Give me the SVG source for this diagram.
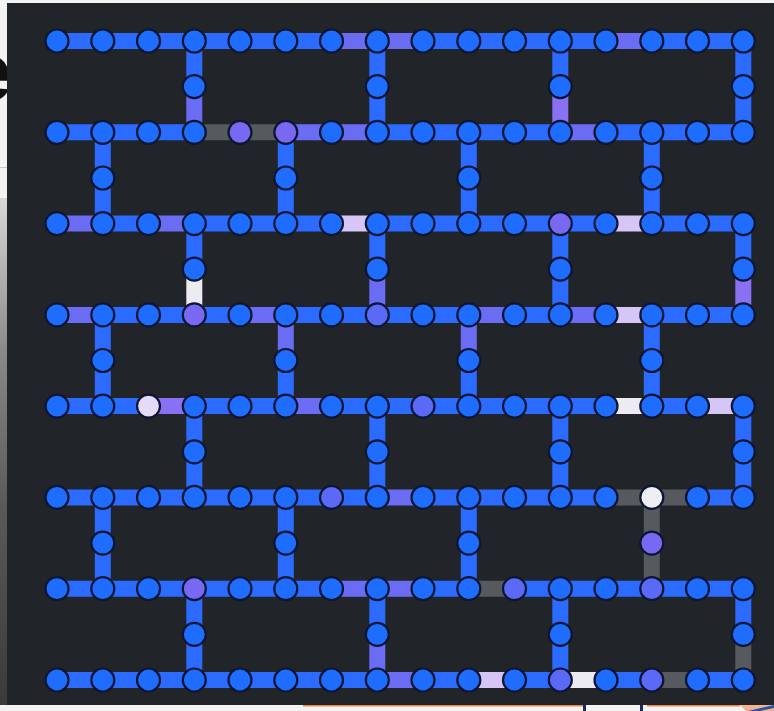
<svg xmlns="http://www.w3.org/2000/svg" width="774" height="711" viewBox="0 0 774 711">
<defs>
<linearGradient id="leftstrip" x1="0" y1="0" x2="0" y2="1">
<stop offset="0" stop-color="#d8d8d8"/>
<stop offset="0.3" stop-color="#8a8a8a"/>
<stop offset="0.6" stop-color="#5a5a5a"/>
<stop offset="1" stop-color="#3a3a3a"/>
</linearGradient>
<style>
.b{stroke:#2b6bff;stroke-width:16;fill:none}
.p{stroke:#6a6cf4;stroke-width:16;fill:none}
.pp{stroke:#8a70f2;stroke-width:16;fill:none}
.l{stroke:#d6c6f6;stroke-width:16;fill:none}
.g{stroke:#56595e;stroke-width:16;fill:none}
.w{stroke:#ecebf2;stroke-width:16;fill:none}
circle{stroke:#0c1633;stroke-width:2.2}
.B{fill:#1f6dff}
.P{fill:#7868f2}
.P2{fill:#5a6af6}
.L{fill:#e4dbf8}
.W{fill:#efeef3}
</style>
</defs>
<rect x="0" y="0" width="774" height="711" fill="#f3f3f3"/>
<rect x="0" y="167" width="8" height="1" fill="#c8c8c8"/>
<rect x="0" y="198" width="8" height="507" fill="url(#leftstrip)"/>
<text x="12" y="100" text-anchor="end" font-family="Liberation Sans, Arial, sans-serif" font-weight="bold" font-size="82" fill="#111">e</text>
<rect x="7" y="3" width="767" height="702" fill="#212428"/>
<rect x="303" y="705" width="280" height="1.5" fill="#f0874a"/>
<rect x="583" y="705" width="3" height="6" fill="#1d2a5a"/>
<rect x="640" y="705" width="3" height="6" fill="#1d2a5a"/>
<rect x="647" y="705" width="93" height="1.5" fill="#f0874a"/>
<polygon points="740,705 774,705 774,711 746,711" fill="#f4b48a"/>
<polygon points="748,711 774,705 774,708 760,711" fill="#2a4fa8"/>
<g id="connectors">
<path class="b" d="M57 41H102.8"/><path class="b" d="M102.8 41H148.5"/><path class="b" d="M148.5 41H194.3"/><path class="b" d="M194.3 41H240"/><path class="b" d="M240 41H285.8"/><path class="b" d="M285.8 41H331.5"/><path class="p" d="M331.5 41H377.3"/><path class="p" d="M377.3 41H423"/><path class="b" d="M423 41H468.8"/><path class="b" d="M468.8 41H514.5"/><path class="b" d="M514.5 41H560.3"/><path class="b" d="M560.3 41H606"/><path class="p" d="M606 41H651.8"/><path class="b" d="M651.8 41H697.5"/><path class="b" d="M697.5 41H743.3"/>
<path class="b" d="M57 132.3H102.8"/><path class="b" d="M102.8 132.3H148.5"/><path class="b" d="M148.5 132.3H194.3"/><path class="g" d="M194.3 132.3H240"/><path class="g" d="M240 132.3H285.8"/><path class="p" d="M285.8 132.3H331.5"/><path class="p" d="M331.5 132.3H377.3"/><path class="b" d="M377.3 132.3H423"/><path class="b" d="M423 132.3H468.8"/><path class="b" d="M468.8 132.3H514.5"/><path class="b" d="M514.5 132.3H560.3"/><path class="p" d="M560.3 132.3H606"/><path class="b" d="M606 132.3H651.8"/><path class="b" d="M651.8 132.3H697.5"/><path class="b" d="M697.5 132.3H743.3"/>
<path class="p" d="M57 223.6H102.8"/><path class="b" d="M102.8 223.6H148.5"/><path class="p" d="M148.5 223.6H194.3"/><path class="b" d="M194.3 223.6H240"/><path class="b" d="M240 223.6H285.8"/><path class="b" d="M285.8 223.6H331.5"/><path class="l" d="M331.5 223.6H377.3"/><path class="b" d="M377.3 223.6H423"/><path class="b" d="M423 223.6H468.8"/><path class="b" d="M468.8 223.6H514.5"/><path class="b" d="M514.5 223.6H560.3"/><path class="b" d="M560.3 223.6H606"/><path class="l" d="M606 223.6H651.8"/><path class="b" d="M651.8 223.6H697.5"/><path class="b" d="M697.5 223.6H743.3"/>
<path class="p" d="M57 314.9H102.8"/><path class="b" d="M102.8 314.9H148.5"/><path class="b" d="M148.5 314.9H194.3"/><path class="b" d="M194.3 314.9H240"/><path class="p" d="M240 314.9H285.8"/><path class="b" d="M285.8 314.9H331.5"/><path class="b" d="M331.5 314.9H377.3"/><path class="b" d="M377.3 314.9H423"/><path class="b" d="M423 314.9H468.8"/><path class="p" d="M468.8 314.9H514.5"/><path class="b" d="M514.5 314.9H560.3"/><path class="p" d="M560.3 314.9H606"/><path class="l" d="M606 314.9H651.8"/><path class="b" d="M651.8 314.9H697.5"/><path class="b" d="M697.5 314.9H743.3"/>
<path class="b" d="M57 406.1H102.8"/><path class="b" d="M102.8 406.1H148.5"/><path class="pp" d="M148.5 406.1H194.3"/><path class="b" d="M194.3 406.1H240"/><path class="b" d="M240 406.1H285.8"/><path class="p" d="M285.8 406.1H331.5"/><path class="b" d="M331.5 406.1H377.3"/><path class="b" d="M377.3 406.1H423"/><path class="b" d="M423 406.1H468.8"/><path class="b" d="M468.8 406.1H514.5"/><path class="b" d="M514.5 406.1H560.3"/><path class="b" d="M560.3 406.1H606"/><path class="w" d="M606 406.1H651.8"/><path class="b" d="M651.8 406.1H697.5"/><path class="l" d="M697.5 406.1H743.3"/>
<path class="b" d="M57 497.4H102.8"/><path class="b" d="M102.8 497.4H148.5"/><path class="b" d="M148.5 497.4H194.3"/><path class="b" d="M194.3 497.4H240"/><path class="b" d="M240 497.4H285.8"/><path class="b" d="M285.8 497.4H331.5"/><path class="b" d="M331.5 497.4H377.3"/><path class="p" d="M377.3 497.4H423"/><path class="b" d="M423 497.4H468.8"/><path class="b" d="M468.8 497.4H514.5"/><path class="b" d="M514.5 497.4H560.3"/><path class="b" d="M560.3 497.4H606"/><path class="g" d="M606 497.4H651.8"/><path class="g" d="M651.8 497.4H697.5"/><path class="b" d="M697.5 497.4H743.3"/>
<path class="b" d="M57 588.7H102.8"/><path class="b" d="M102.8 588.7H148.5"/><path class="b" d="M148.5 588.7H194.3"/><path class="b" d="M194.3 588.7H240"/><path class="b" d="M240 588.7H285.8"/><path class="b" d="M285.8 588.7H331.5"/><path class="p" d="M331.5 588.7H377.3"/><path class="p" d="M377.3 588.7H423"/><path class="b" d="M423 588.7H468.8"/><path class="g" d="M468.8 588.7H514.5"/><path class="b" d="M514.5 588.7H560.3"/><path class="b" d="M560.3 588.7H606"/><path class="b" d="M606 588.7H651.8"/><path class="b" d="M651.8 588.7H697.5"/><path class="b" d="M697.5 588.7H743.3"/>
<path class="b" d="M57 680H102.8"/><path class="b" d="M102.8 680H148.5"/><path class="b" d="M148.5 680H194.3"/><path class="b" d="M194.3 680H240"/><path class="b" d="M240 680H285.8"/><path class="b" d="M285.8 680H331.5"/><path class="b" d="M331.5 680H377.3"/><path class="p" d="M377.3 680H423"/><path class="b" d="M423 680H468.8"/><path class="l" d="M468.8 680H514.5"/><path class="b" d="M514.5 680H560.3"/><path class="w" d="M560.3 680H606"/><path class="b" d="M606 680H651.8"/><path class="g" d="M651.8 680H697.5"/><path class="b" d="M697.5 680H743.3"/>
<path class="b" d="M194.3 41V86.6"/><path class="p" d="M194.3 86.6V132.3"/>
<path class="b" d="M377.3 41V86.6"/><path class="b" d="M377.3 86.6V132.3"/>
<path class="b" d="M560.3 41V86.6"/><path class="pp" d="M560.3 86.6V132.3"/>
<path class="b" d="M743.3 41V86.6"/><path class="b" d="M743.3 86.6V132.3"/>
<path class="b" d="M102.8 132.3V178"/><path class="b" d="M102.8 178V223.6"/>
<path class="b" d="M285.8 132.3V178"/><path class="b" d="M285.8 178V223.6"/>
<path class="b" d="M468.8 132.3V178"/><path class="b" d="M468.8 178V223.6"/>
<path class="b" d="M651.8 132.3V178"/><path class="b" d="M651.8 178V223.6"/>
<path class="b" d="M194.3 223.6V269.2"/><path class="w" d="M194.3 269.2V314.9"/>
<path class="b" d="M377.3 223.6V269.2"/><path class="p" d="M377.3 269.2V314.9"/>
<path class="b" d="M560.3 223.6V269.2"/><path class="b" d="M560.3 269.2V314.9"/>
<path class="b" d="M743.3 223.6V269.2"/><path class="pp" d="M743.3 269.2V314.9"/>
<path class="b" d="M102.8 314.9V360.5"/><path class="b" d="M102.8 360.5V406.1"/>
<path class="p" d="M285.8 314.9V360.5"/><path class="b" d="M285.8 360.5V406.1"/>
<path class="p" d="M468.8 314.9V360.5"/><path class="b" d="M468.8 360.5V406.1"/>
<path class="b" d="M651.8 314.9V360.5"/><path class="b" d="M651.8 360.5V406.1"/>
<path class="b" d="M194.3 406.1V451.8"/><path class="b" d="M194.3 451.8V497.4"/>
<path class="b" d="M377.3 406.1V451.8"/><path class="b" d="M377.3 451.8V497.4"/>
<path class="b" d="M560.3 406.1V451.8"/><path class="b" d="M560.3 451.8V497.4"/>
<path class="b" d="M743.3 406.1V451.8"/><path class="b" d="M743.3 451.8V497.4"/>
<path class="b" d="M102.8 497.4V543.1"/><path class="b" d="M102.8 543.1V588.7"/>
<path class="b" d="M285.8 497.4V543.1"/><path class="b" d="M285.8 543.1V588.7"/>
<path class="b" d="M468.8 497.4V543.1"/><path class="b" d="M468.8 543.1V588.7"/>
<path class="g" d="M651.8 497.4V543.1"/><path class="g" d="M651.8 543.1V588.7"/>
<path class="b" d="M194.3 588.7V634.4"/><path class="b" d="M194.3 634.4V680"/>
<path class="b" d="M377.3 588.7V634.4"/><path class="p" d="M377.3 634.4V680"/>
<path class="b" d="M560.3 588.7V634.4"/><path class="b" d="M560.3 634.4V680"/>
<path class="b" d="M743.3 588.7V634.4"/><path class="g" d="M743.3 634.4V680"/>
</g>
<g id="r0">
<g id="q0-0"><circle class="B" cx="57" cy="41" r="11.5"/></g><g id="q0-1"><circle class="B" cx="102.8" cy="41" r="11.5"/></g><g id="q0-2"><circle class="B" cx="148.5" cy="41" r="11.5"/></g><g id="q0-3"><circle class="B" cx="194.3" cy="41" r="11.5"/></g><g id="q0-4"><circle class="B" cx="240" cy="41" r="11.5"/></g><g id="q0-5"><circle class="B" cx="285.8" cy="41" r="11.5"/></g><g id="q0-6"><circle class="B" cx="331.5" cy="41" r="11.5"/></g><g id="q0-7"><circle class="B" cx="377.3" cy="41" r="11.5"/></g><g id="q0-8"><circle class="B" cx="423" cy="41" r="11.5"/></g><g id="q0-9"><circle class="B" cx="468.8" cy="41" r="11.5"/></g><g id="q0-10"><circle class="B" cx="514.5" cy="41" r="11.5"/></g><g id="q0-11"><circle class="B" cx="560.3" cy="41" r="11.5"/></g><g id="q0-12"><circle class="B" cx="606" cy="41" r="11.5"/></g><g id="q0-13"><circle class="B" cx="651.8" cy="41" r="11.5"/></g><g id="q0-14"><circle class="B" cx="697.5" cy="41" r="11.5"/></g><g id="q0-15"><circle class="B" cx="743.3" cy="41" r="11.5"/></g>
</g>
<g id="r1">
<g id="q1-0"><circle class="B" cx="57" cy="132.3" r="11.5"/></g><g id="q1-1"><circle class="B" cx="102.8" cy="132.3" r="11.5"/></g><g id="q1-2"><circle class="B" cx="148.5" cy="132.3" r="11.5"/></g><g id="q1-3"><circle class="B" cx="194.3" cy="132.3" r="11.5"/></g><g id="q1-4"><circle class="P" cx="240" cy="132.3" r="11.5"/></g><g id="q1-5"><circle class="P" cx="285.8" cy="132.3" r="11.5"/></g><g id="q1-6"><circle class="B" cx="331.5" cy="132.3" r="11.5"/></g><g id="q1-7"><circle class="B" cx="377.3" cy="132.3" r="11.5"/></g><g id="q1-8"><circle class="B" cx="423" cy="132.3" r="11.5"/></g><g id="q1-9"><circle class="B" cx="468.8" cy="132.3" r="11.5"/></g><g id="q1-10"><circle class="B" cx="514.5" cy="132.3" r="11.5"/></g><g id="q1-11"><circle class="B" cx="560.3" cy="132.3" r="11.5"/></g><g id="q1-12"><circle class="B" cx="606" cy="132.3" r="11.5"/></g><g id="q1-13"><circle class="B" cx="651.8" cy="132.3" r="11.5"/></g><g id="q1-14"><circle class="B" cx="697.5" cy="132.3" r="11.5"/></g><g id="q1-15"><circle class="B" cx="743.3" cy="132.3" r="11.5"/></g>
</g>
<g id="r2">
<g id="q2-0"><circle class="B" cx="57" cy="223.6" r="11.5"/></g><g id="q2-1"><circle class="B" cx="102.8" cy="223.6" r="11.5"/></g><g id="q2-2"><circle class="B" cx="148.5" cy="223.6" r="11.5"/></g><g id="q2-3"><circle class="B" cx="194.3" cy="223.6" r="11.5"/></g><g id="q2-4"><circle class="B" cx="240" cy="223.6" r="11.5"/></g><g id="q2-5"><circle class="B" cx="285.8" cy="223.6" r="11.5"/></g><g id="q2-6"><circle class="B" cx="331.5" cy="223.6" r="11.5"/></g><g id="q2-7"><circle class="B" cx="377.3" cy="223.6" r="11.5"/></g><g id="q2-8"><circle class="B" cx="423" cy="223.6" r="11.5"/></g><g id="q2-9"><circle class="B" cx="468.8" cy="223.6" r="11.5"/></g><g id="q2-10"><circle class="B" cx="514.5" cy="223.6" r="11.5"/></g><g id="q2-11"><circle class="P" cx="560.3" cy="223.6" r="11.5"/></g><g id="q2-12"><circle class="B" cx="606" cy="223.6" r="11.5"/></g><g id="q2-13"><circle class="B" cx="651.8" cy="223.6" r="11.5"/></g><g id="q2-14"><circle class="B" cx="697.5" cy="223.6" r="11.5"/></g><g id="q2-15"><circle class="B" cx="743.3" cy="223.6" r="11.5"/></g>
</g>
<g id="r3">
<g id="q3-0"><circle class="B" cx="57" cy="314.9" r="11.5"/></g><g id="q3-1"><circle class="B" cx="102.8" cy="314.9" r="11.5"/></g><g id="q3-2"><circle class="B" cx="148.5" cy="314.9" r="11.5"/></g><g id="q3-3"><circle class="P" cx="194.3" cy="314.9" r="11.5"/></g><g id="q3-4"><circle class="B" cx="240" cy="314.9" r="11.5"/></g><g id="q3-5"><circle class="B" cx="285.8" cy="314.9" r="11.5"/></g><g id="q3-6"><circle class="B" cx="331.5" cy="314.9" r="11.5"/></g><g id="q3-7"><circle class="P2" cx="377.3" cy="314.9" r="11.5"/></g><g id="q3-8"><circle class="B" cx="423" cy="314.9" r="11.5"/></g><g id="q3-9"><circle class="B" cx="468.8" cy="314.9" r="11.5"/></g><g id="q3-10"><circle class="B" cx="514.5" cy="314.9" r="11.5"/></g><g id="q3-11"><circle class="B" cx="560.3" cy="314.9" r="11.5"/></g><g id="q3-12"><circle class="B" cx="606" cy="314.9" r="11.5"/></g><g id="q3-13"><circle class="B" cx="651.8" cy="314.9" r="11.5"/></g><g id="q3-14"><circle class="B" cx="697.5" cy="314.9" r="11.5"/></g><g id="q3-15"><circle class="B" cx="743.3" cy="314.9" r="11.5"/></g>
</g>
<g id="r4">
<g id="q4-0"><circle class="B" cx="57" cy="406.1" r="11.5"/></g><g id="q4-1"><circle class="B" cx="102.8" cy="406.1" r="11.5"/></g><g id="q4-2"><circle class="L" cx="148.5" cy="406.1" r="11.5"/></g><g id="q4-3"><circle class="B" cx="194.3" cy="406.1" r="11.5"/></g><g id="q4-4"><circle class="B" cx="240" cy="406.1" r="11.5"/></g><g id="q4-5"><circle class="B" cx="285.8" cy="406.1" r="11.5"/></g><g id="q4-6"><circle class="B" cx="331.5" cy="406.1" r="11.5"/></g><g id="q4-7"><circle class="B" cx="377.3" cy="406.1" r="11.5"/></g><g id="q4-8"><circle class="P2" cx="423" cy="406.1" r="11.5"/></g><g id="q4-9"><circle class="B" cx="468.8" cy="406.1" r="11.5"/></g><g id="q4-10"><circle class="B" cx="514.5" cy="406.1" r="11.5"/></g><g id="q4-11"><circle class="B" cx="560.3" cy="406.1" r="11.5"/></g><g id="q4-12"><circle class="B" cx="606" cy="406.1" r="11.5"/></g><g id="q4-13"><circle class="B" cx="651.8" cy="406.1" r="11.5"/></g><g id="q4-14"><circle class="B" cx="697.5" cy="406.1" r="11.5"/></g><g id="q4-15"><circle class="B" cx="743.3" cy="406.1" r="11.5"/></g>
</g>
<g id="r5">
<g id="q5-0"><circle class="B" cx="57" cy="497.4" r="11.5"/></g><g id="q5-1"><circle class="B" cx="102.8" cy="497.4" r="11.5"/></g><g id="q5-2"><circle class="B" cx="148.5" cy="497.4" r="11.5"/></g><g id="q5-3"><circle class="B" cx="194.3" cy="497.4" r="11.5"/></g><g id="q5-4"><circle class="B" cx="240" cy="497.4" r="11.5"/></g><g id="q5-5"><circle class="B" cx="285.8" cy="497.4" r="11.5"/></g><g id="q5-6"><circle class="P2" cx="331.5" cy="497.4" r="11.5"/></g><g id="q5-7"><circle class="B" cx="377.3" cy="497.4" r="11.5"/></g><g id="q5-8"><circle class="B" cx="423" cy="497.4" r="11.5"/></g><g id="q5-9"><circle class="B" cx="468.8" cy="497.4" r="11.5"/></g><g id="q5-10"><circle class="B" cx="514.5" cy="497.4" r="11.5"/></g><g id="q5-11"><circle class="B" cx="560.3" cy="497.4" r="11.5"/></g><g id="q5-12"><circle class="B" cx="606" cy="497.4" r="11.5"/></g><g id="q5-13"><circle class="W" cx="651.8" cy="497.4" r="11.5"/></g><g id="q5-14"><circle class="B" cx="697.5" cy="497.4" r="11.5"/></g><g id="q5-15"><circle class="B" cx="743.3" cy="497.4" r="11.5"/></g>
</g>
<g id="r6">
<g id="q6-0"><circle class="B" cx="57" cy="588.7" r="11.5"/></g><g id="q6-1"><circle class="B" cx="102.8" cy="588.7" r="11.5"/></g><g id="q6-2"><circle class="B" cx="148.5" cy="588.7" r="11.5"/></g><g id="q6-3"><circle class="P" cx="194.3" cy="588.7" r="11.5"/></g><g id="q6-4"><circle class="B" cx="240" cy="588.7" r="11.5"/></g><g id="q6-5"><circle class="B" cx="285.8" cy="588.7" r="11.5"/></g><g id="q6-6"><circle class="B" cx="331.5" cy="588.7" r="11.5"/></g><g id="q6-7"><circle class="B" cx="377.3" cy="588.7" r="11.5"/></g><g id="q6-8"><circle class="B" cx="423" cy="588.7" r="11.5"/></g><g id="q6-9"><circle class="B" cx="468.8" cy="588.7" r="11.5"/></g><g id="q6-10"><circle class="P2" cx="514.5" cy="588.7" r="11.5"/></g><g id="q6-11"><circle class="B" cx="560.3" cy="588.7" r="11.5"/></g><g id="q6-12"><circle class="B" cx="606" cy="588.7" r="11.5"/></g><g id="q6-13"><circle class="P2" cx="651.8" cy="588.7" r="11.5"/></g><g id="q6-14"><circle class="B" cx="697.5" cy="588.7" r="11.5"/></g><g id="q6-15"><circle class="B" cx="743.3" cy="588.7" r="11.5"/></g>
</g>
<g id="r7">
<g id="q7-0"><circle class="B" cx="57" cy="680" r="11.5"/></g><g id="q7-1"><circle class="B" cx="102.8" cy="680" r="11.5"/></g><g id="q7-2"><circle class="B" cx="148.5" cy="680" r="11.5"/></g><g id="q7-3"><circle class="B" cx="194.3" cy="680" r="11.5"/></g><g id="q7-4"><circle class="B" cx="240" cy="680" r="11.5"/></g><g id="q7-5"><circle class="B" cx="285.8" cy="680" r="11.5"/></g><g id="q7-6"><circle class="B" cx="331.5" cy="680" r="11.5"/></g><g id="q7-7"><circle class="B" cx="377.3" cy="680" r="11.5"/></g><g id="q7-8"><circle class="B" cx="423" cy="680" r="11.5"/></g><g id="q7-9"><circle class="B" cx="468.8" cy="680" r="11.5"/></g><g id="q7-10"><circle class="B" cx="514.5" cy="680" r="11.5"/></g><g id="q7-11"><circle class="P2" cx="560.3" cy="680" r="11.5"/></g><g id="q7-12"><circle class="B" cx="606" cy="680" r="11.5"/></g><g id="q7-13"><circle class="P2" cx="651.8" cy="680" r="11.5"/></g><g id="q7-14"><circle class="B" cx="697.5" cy="680" r="11.5"/></g><g id="q7-15"><circle class="B" cx="743.3" cy="680" r="11.5"/></g>
</g>
<g id="bridges">
<g id="b0-3"><circle class="B" cx="194.3" cy="86.6" r="11.5"/></g><g id="b0-7"><circle class="B" cx="377.3" cy="86.6" r="11.5"/></g><g id="b0-11"><circle class="B" cx="560.3" cy="86.6" r="11.5"/></g><g id="b0-15"><circle class="B" cx="743.3" cy="86.6" r="11.5"/></g>
<g id="b1-1"><circle class="B" cx="102.8" cy="178" r="11.5"/></g><g id="b1-5"><circle class="B" cx="285.8" cy="178" r="11.5"/></g><g id="b1-9"><circle class="B" cx="468.8" cy="178" r="11.5"/></g><g id="b1-13"><circle class="B" cx="651.8" cy="178" r="11.5"/></g>
<g id="b2-3"><circle class="B" cx="194.3" cy="269.2" r="11.5"/></g><g id="b2-7"><circle class="B" cx="377.3" cy="269.2" r="11.5"/></g><g id="b2-11"><circle class="B" cx="560.3" cy="269.2" r="11.5"/></g><g id="b2-15"><circle class="B" cx="743.3" cy="269.2" r="11.5"/></g>
<g id="b3-1"><circle class="B" cx="102.8" cy="360.5" r="11.5"/></g><g id="b3-5"><circle class="B" cx="285.8" cy="360.5" r="11.5"/></g><g id="b3-9"><circle class="B" cx="468.8" cy="360.5" r="11.5"/></g><g id="b3-13"><circle class="B" cx="651.8" cy="360.5" r="11.5"/></g>
<g id="b4-3"><circle class="B" cx="194.3" cy="451.8" r="11.5"/></g><g id="b4-7"><circle class="B" cx="377.3" cy="451.8" r="11.5"/></g><g id="b4-11"><circle class="B" cx="560.3" cy="451.8" r="11.5"/></g><g id="b4-15"><circle class="B" cx="743.3" cy="451.8" r="11.5"/></g>
<g id="b5-1"><circle class="B" cx="102.8" cy="543.1" r="11.5"/></g><g id="b5-5"><circle class="B" cx="285.8" cy="543.1" r="11.5"/></g><g id="b5-9"><circle class="B" cx="468.8" cy="543.1" r="11.5"/></g><g id="b5-13"><circle class="P" cx="651.8" cy="543.1" r="11.5"/></g>
<g id="b6-3"><circle class="B" cx="194.3" cy="634.4" r="11.5"/></g><g id="b6-7"><circle class="B" cx="377.3" cy="634.4" r="11.5"/></g><g id="b6-11"><circle class="B" cx="560.3" cy="634.4" r="11.5"/></g><g id="b6-15"><circle class="B" cx="743.3" cy="634.4" r="11.5"/></g>
</g>
</svg>
